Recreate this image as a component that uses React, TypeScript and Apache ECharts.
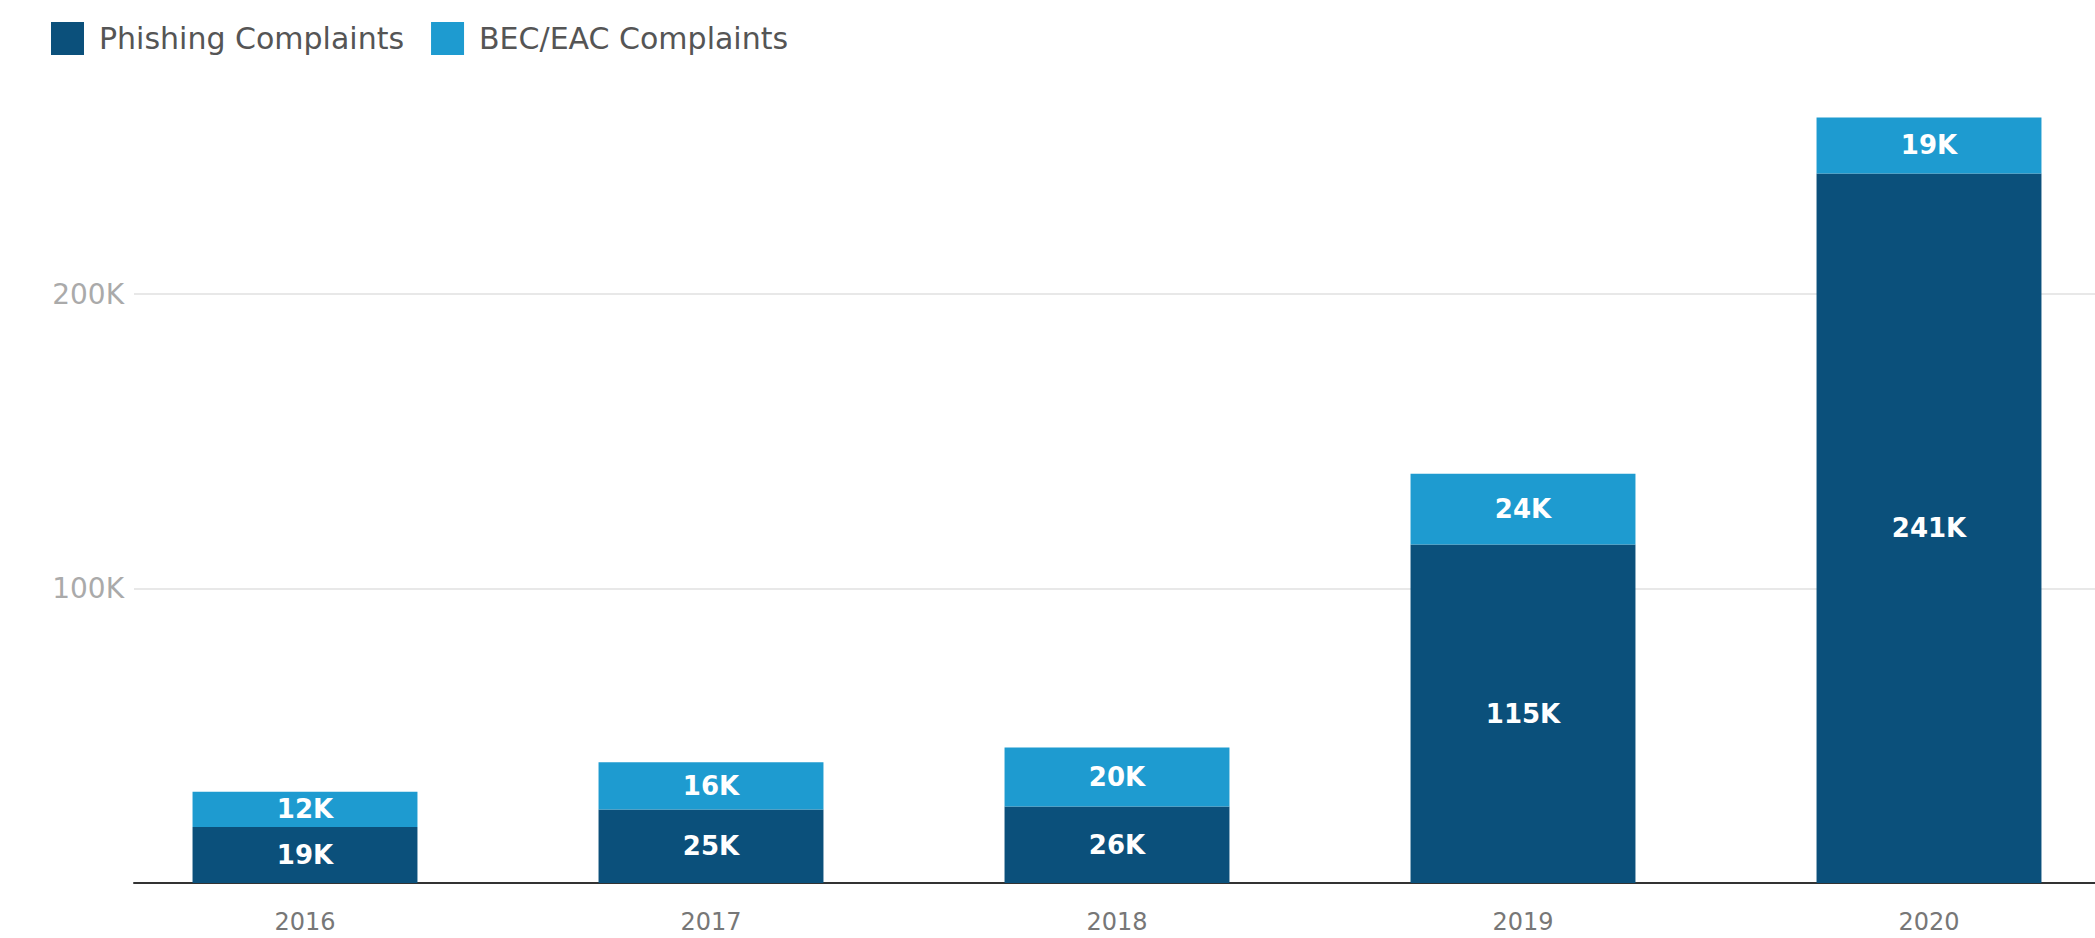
import React, { useEffect, useRef } from "react";
import * as echarts from "echarts";

const years = ["2016", "2017", "2018", "2019", "2020"];
const phishing = [19000, 25000, 26000, 115000, 241000];
const becEac = [12000, 16000, 20000, 24000, 19000];
const seriesNames = ["Phishing Complaints", "BEC/EAC Complaints"];

const FONT = "DejaVu Sans";

export default function App() {
  const ref = useRef<HTMLDivElement>(null);
  useEffect(() => {
    if (!ref.current) return;
    const chart = echarts.init(ref.current, null, { renderer: "svg" });
    const fmtK = (v: number) => Math.round(v / 1000) + "K";
    const barLabel = {
      show: true,
      position: "inside",
      color: "#ffffff",
      fontFamily: FONT,
      fontWeight: "bold",
      fontSize: 26,
      formatter: (p: any) => fmtK(p.value),
    };
    chart.setOption({
      animation: false,
      backgroundColor: "#ffffff",
      legend: {
        left: 46,
        top: 17,
        itemWidth: 33,
        itemHeight: 33,
        itemGap: 27,
        icon: "rect",
        data: seriesNames,
        textStyle: { fontFamily: FONT, fontSize: 30, color: "#555555", padding: [0, 0, 0, 10] },
      },
      grid: [
        { left: 134, right: 0, top: 88, bottom: 55, outerBoundsMode: "none" },
        { left: 102, width: 2030, top: 88, bottom: 55, outerBoundsMode: "none" },
      ],
      xAxis: [
        {
          type: "value",
          gridIndex: 0,
          min: 0,
          max: 1,
          axisLine: { show: true, lineStyle: { color: "#333333", width: 2 } },
          axisTick: { show: false },
          axisLabel: { show: false },
          splitLine: { show: false },
        },
        {
          type: "category",
          gridIndex: 1,
          data: years,
          axisLine: { show: false },
          axisTick: { show: false },
          axisLabel: { fontFamily: FONT, fontSize: 24, color: "#777777", margin: 27 },
        },
      ],
      yAxis: [
        {
          type: "value",
          gridIndex: 0,
          min: 0,
          max: 270000,
          interval: 100000,
          axisLine: { show: false },
          axisTick: { show: false },
          axisLabel: {
            fontFamily: FONT,
            fontSize: 28,
            color: "#aaaaaa",
            margin: 10,
            showMinLabel: false,
            showMaxLabel: false,
            formatter: (v: number) => (v === 0 ? "" : fmtK(v)),
          },
          splitLine: {
            show: true,
            showMinLine: false,
            showMaxLine: false,
            lineStyle: { color: "#e8e8e8", width: 2 },
          },
        },
        {
          type: "value",
          gridIndex: 1,
          min: 0,
          max: 270000,
          interval: 100000,
          show: false,
          splitLine: { show: false },
        },
      ],
      series: [
        {
          name: seriesNames[0],
          type: "bar",
          stack: "total",
          xAxisIndex: 1,
          yAxisIndex: 1,
          barWidth: "55.4%",
          data: phishing,
          itemStyle: { color: "#0b507b" },
          label: barLabel,
        },
        {
          name: seriesNames[1],
          type: "bar",
          stack: "total",
          xAxisIndex: 1,
          yAxisIndex: 1,
          barWidth: "55.4%",
          data: becEac,
          itemStyle: { color: "#1e9bd0" },
          label: barLabel,
        },
      ],
    });
    return () => chart.dispose();
  }, []);
  return (
    <div
      ref={ref}
      style={{ position: "fixed", left: 0, top: 0, width: 2095, height: 938, background: "#fff" }}
    />
  );
}
